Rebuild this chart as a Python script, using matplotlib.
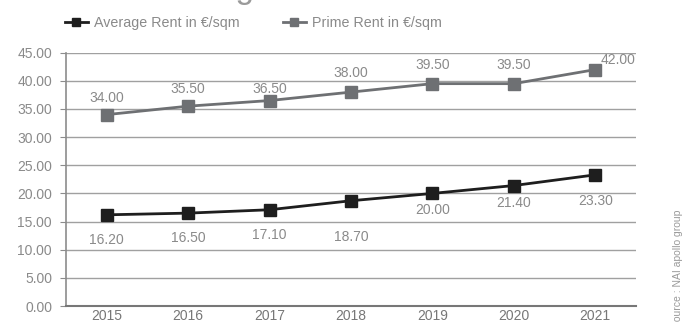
import matplotlib
matplotlib.use("Agg")
import matplotlib.pyplot as plt

# Dados do gráfico
years = ["2015", "2016", "2017", "2018", "2019", "2020", "2021"]
average_rent = [16.20, 16.50, 17.10, 18.70, 20.00, 21.40, 23.30]
prime_rent = [34.00, 35.50, 36.50, 38.00, 39.50, 39.50, 42.00]
y_ticks = [0, 5, 10, 15, 20, 25, 30, 35, 40, 45]

# Deslocamento dos rótulos (em pixels) em relação aos pontos
avg_label_dx = [0, 0, 0, 0, 0, 0, 0]
avg_label_dy = [-25, -25, -25, -36, -17, -17, -26]
prime_label_dx = [0, 0, 0, 0, 0, 0, 23]
prime_label_dy = [17, 17, 12, 19, 19, 19, 10]

plt.rcParams['font.family'] = ['Liberation Sans', 'DejaVu Sans']

fig = plt.figure(figsize=(6.94, 3.22), dpi=100)
ax = fig.add_axes([66 / 694, 1 - 306 / 322, 570 / 694, (306 - 52.7) / 322])

x = list(range(len(years)))
avg_color = "#1e1e1e"
prime_color = "#6e7073"
text_color = "#8a8a8a"

ax.plot(x, average_rent, color=avg_color, lw=2, marker="s", markersize=8.5,
        label="Average Rent in €/sqm", zorder=3)
ax.plot(x, prime_rent, color=prime_color, lw=2, marker="s", markersize=8.5,
        label="Prime Rent in €/sqm", zorder=3)

for i in x:
    ax.annotate(f"{average_rent[i]:.2f}", (i, average_rent[i]),
                xytext=(avg_label_dx[i], avg_label_dy[i]), textcoords="offset pixels",
                ha="center", va="center", fontsize=10, color=text_color)
    ax.annotate(f"{prime_rent[i]:.2f}", (i, prime_rent[i]),
                xytext=(prime_label_dx[i], prime_label_dy[i]), textcoords="offset pixels",
                ha="center", va="center", fontsize=10, color=text_color)

ax.set_xlim(-0.5, len(years) - 0.5)
ax.set_ylim(0, 45)
ax.set_xticks(x)
ax.set_xticklabels(years)
ax.set_yticks(y_ticks)
ax.set_yticklabels([f"{v:.2f}" for v in y_ticks])

ax.grid(axis="y", color="#a0a0a0", lw=1)
ax.set_axisbelow(True)
for side in ["top", "right"]:
    ax.spines[side].set_visible(False)
ax.spines["left"].set_color("#8c8c8c")
ax.spines["left"].set_linewidth(1.2)
ax.spines["bottom"].set_color("#777777")
ax.spines["bottom"].set_linewidth(1.5)
ax.tick_params(axis="y", length=4, color="#8c8c8c", labelcolor=text_color, labelsize=10, pad=6)
ax.tick_params(axis="x", length=0, labelcolor="#777777", labelsize=10, pad=2)

leg = ax.legend(loc="center left", bbox_to_anchor=(65 / 694, 1 - 23 / 322),
                bbox_transform=fig.transFigure, ncol=2, frameon=False, fontsize=10.3,
                labelcolor="#8a8a8a", handlelength=1.6, handletextpad=0.45,
                columnspacing=3.0, borderpad=0, borderaxespad=0, markerscale=0.75)

# título cortado no topo
fig.text(55 / 694, 1 + 2 / 322, "Office Average Rent", fontsize=24, color="#9a9a9a",
         ha="left", va="baseline")
fig.text(678 / 694, 1 - 328 / 322, "Source : NAI apollo group", rotation=90,
         fontsize=7.5, color="#9a9a9a", ha="center", va="bottom")

fig.savefig("out.png", dpi=100)
